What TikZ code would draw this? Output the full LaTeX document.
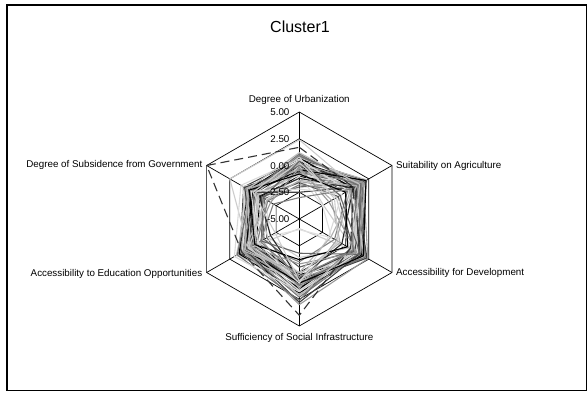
\documentclass[tikz,border=0pt]{standalone}
\usepackage{fontspec}
\setmainfont{Liberation Sans}
\usetikzlibrary{calc}
\begin{document}
\begin{tikzpicture}[x=1pt,y=-1pt,
  grid/.style={draw=black,line width=0.7pt},
  ser/.style={line width=1.1pt,line join=round},
  dser/.style={line width=1.1pt,draw=black!80,dash pattern=on 9pt off 5pt},
  lab/.style={font=\fontsize{9.8}{11}\selectfont,inner sep=0pt},
  tick/.style={font=\fontsize{9.8}{11}\selectfont,inner sep=0pt,anchor=base east}]
\useasboundingbox (0,0) rectangle (587,392);
\draw[line width=1.2pt] (7,5) rectangle (586.6,390.4);
\node[font=\fontsize{16}{18}\selectfont,inner sep=0pt,anchor=base] (title) at (300,32.5) {Cluster1};
\coordinate (C) at (299.3,219);
\begin{scope}[shift={(C)}]
  % grid
  \foreach \r in {26.75,53.5,80.25,107}
    \draw[grid] (90:\r pt) -- (30:\r pt) -- (-30:\r pt) -- (-90:\r pt) -- (210:\r pt) -- (150:\r pt) -- cycle;
  \coordinate (vU) at (90:107pt);
  \coordinate (vA) at (30:107pt);
  \coordinate (vD) at (-30:107pt);
  \coordinate (vS) at (-90:107pt);
  \coordinate (vE) at (210:107pt);
  \coordinate (vG) at (150:107pt);
  \foreach \v in {vU,vA,vD,vS,vE,vG} \draw[grid] (0,0) -- (\v);
  % series
  \foreach \c/\u/\a/\d/\s/\e/\g in {
    black/0.0/1.5/1.6/0.8/0.6/-0.2,
    black!75/-0.5/1.8/2.0/1.2/0.3/0.0,
    black!55/0.4/1.2/1.0/0.5/1.0/0.5,
    black!40/0.8/2.0/1.4/1.6/0.8/0.3,
    black!25/-0.8/0.9/1.8/1.0/0.0/-0.5,
    black!15/0.2/1.6/1.2/2.0/1.2/0.6,
    black/-1.0/1.0/2.2/0.2/-0.3/-0.8,
    black!75/0.6/2.2/1.8/1.4/1.4/1.0,
    black!55/-0.2/0.6/0.8/1.8/0.5/0.0,
    black!40/1.0/1.4/2.2/0.9/0.2/-0.3,
    black!25/0.0/2.1/0.6/1.3/1.6/0.8,
    black!15/-1.2/1.3/1.5/0.0/-0.6/-1.0,
    black/0.3/1.9/1.3/1.5/1.0/0.2,
    black!75/-0.6/1.1/2.3/1.0/0.6/0.4,
    black!55/0.9/1.7/1.5/2.3/0.9/-0.2,
    black!40/-0.3/0.4/1.9/0.6/1.3/0.7,
    black!25/0.5/2.3/1.1/1.1/-0.2/-0.6,
    black!15/-0.9/1.5/0.9/1.7/0.4/1.1,
    black/0.7/0.8/1.7/1.9/1.5/0.5,
    black!75/-0.1/2.0/1.0/0.4/0.0/0.9,
    black!55/1.1/1.3/2.1/1.2/0.7/0.1,
    black!40/-0.7/1.8/1.6/2.1/1.1/-0.4,
    black!25/0.1/0.7/2.0/0.8/1.8/0.3,
    black!20/2.4/1.0/1.2/0.5/0.5/2.5,
    black!60/-2.0/1.6/1.4/1.0/-1.5/-1.2,
    black!20/0.0/-2.4/1.0/-4.1/0.5/-1.5,
    black!12/-1.0/-2.5/-1.5/-4.0/-1.8/-1.4,
    black!35/-1.5/0.5/-1.0/1.5/-1.0/-1.0,
    black!75/-2.5/1.0/1.5/2.8/0.8/0.0,
    black!40/0.2/1.9/2.4/3.0/1.0/0.4,
    black!55/0.0/1.4/0.5/2.6/1.7/0.2,
    black!15/0.6/0.3/1.3/1.8/2.0/1.3,
    black/-0.4/2.2/1.9/1.0/0.8/0.0,
    black!25/1.2/1.5/0.7/2.2/0.3/0.6,
    black!65/-1.6/-0.8/0.9/-0.5/-1.2/-0.9,
    black!30/-0.4/-1.5/-0.6/0.2/0.8/0.6,
    black!50/-1.8/0.2/-1.2/-1.0/-0.4/-1.6,
    black!20/0.3/-1.0/0.4/-1.4/-1.6/-0.2,
    black!85/-1.2/0.8/-0.4/0.6/-1.9/-0.7,
    black!40/-0.2/-1.8/1.2/-0.8/0.2/-1.9,
    black!15/-2.2/-0.4/-1.8/1.0/-0.5/0.2,
    black!60/0.4/-0.6/1.6/-1.8/-0.9/-1.1,
    black!30/-1.4/1.2/-1.6/0.0/1.0/-1.5,
    black/-0.8/0.0/0.2/-1.2/-0.2/0.4,
    black!50/-3.0/0.6/0.8/0.4/-0.8/-2.2,
    black!20/0.8/-1.2/-0.8/0.8/-2.4/0.0}
  {
    \draw[ser,draw=\c] (90:{(\u+5)*10.7pt}) -- (30:{(\a+5)*10.7pt}) -- (-30:{(\d+5)*10.7pt})
      -- (-90:{(\s+5)*10.7pt}) -- (210:{(\e+5)*10.7pt}) -- (150:{(\g+5)*10.7pt}) -- cycle;
  }
  \draw[dser] (90:71.7pt) -- (30:63pt) -- (-30:58.9pt) -- (-90:96.3pt) -- (210:66.3pt) -- (vG) -- cycle;
\end{scope}
% tick labels
\node[tick] (t1) at (289.6,115.5) {5.00};
\node[tick] (t2) at (289.6,142.3) {2.50};
\node[tick] (t3) at (289.6,169) {0.00};
\node[tick] (t4) at (289.6,195.8) {-2.50};
\node[tick] (t5) at (289.6,222.5) {-5.00};
% axis labels
\node[lab,anchor=base] (lU) at (299.3,102.5) {Degree of Urbanization};
\node[lab,anchor=base west] (lA) at (396,168.5) {Suitability on Agriculture};
\node[lab,anchor=base west] (lD) at (396,275.5) {Accessibility for Development};
\node[lab,anchor=base] (lS) at (299.3,340.2) {Sufficiency of Social Infrastructure};
\node[lab,anchor=base east] (lE) at (202.5,276.5) {Accessibility to Education Opportunities};
\node[lab,anchor=base east] (lG) at (202.5,167.5) {Degree of Subsidence from Government};
\end{tikzpicture}
\end{document}
